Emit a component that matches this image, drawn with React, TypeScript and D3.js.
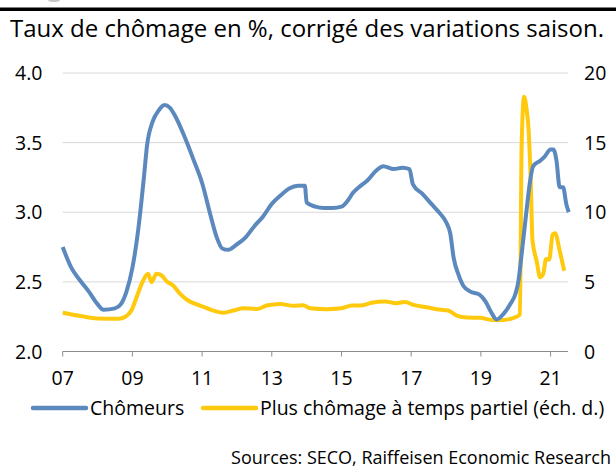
import * as d3 from "d3";

// Chômeurs, taux en % (échelle de gauche)
const chomeurs: [number, number][] = [
  [2007.0, 2.75], [2007.25, 2.6], [2007.5, 2.51], [2007.75, 2.43], [2008.0, 2.34],
  [2008.17, 2.3], [2008.5, 2.31], [2008.67, 2.34], [2008.83, 2.43], [2009.0, 2.6],
  [2009.17, 2.88], [2009.33, 3.25], [2009.42, 3.48], [2009.58, 3.65], [2009.75, 3.73],
  [2009.92, 3.77], [2010.08, 3.75], [2010.25, 3.68], [2010.5, 3.54], [2010.75, 3.38],
  [2011.0, 3.21], [2011.25, 2.97], [2011.42, 2.82], [2011.58, 2.74], [2011.75, 2.73],
  [2012.0, 2.77], [2012.25, 2.82], [2012.5, 2.9], [2012.75, 2.97], [2013.0, 3.06],
  [2013.25, 3.12], [2013.5, 3.17], [2013.75, 3.19], [2013.95, 3.19], [2014.0, 3.07],
  [2014.25, 3.04], [2014.5, 3.03], [2014.75, 3.03], [2015.0, 3.04], [2015.17, 3.08],
  [2015.33, 3.14], [2015.5, 3.18], [2015.75, 3.23], [2016.0, 3.3], [2016.2, 3.33],
  [2016.5, 3.31], [2016.75, 3.32], [2016.95, 3.31], [2017.05, 3.2], [2017.33, 3.13],
  [2017.58, 3.06], [2017.83, 2.99], [2018.0, 2.93], [2018.12, 2.85], [2018.22, 2.67],
  [2018.36, 2.55], [2018.5, 2.47], [2018.7, 2.43], [2018.95, 2.41], [2019.13, 2.36],
  [2019.3, 2.28], [2019.45, 2.23], [2019.65, 2.27], [2019.84, 2.34], [2020.0, 2.42],
  [2020.08, 2.51], [2020.17, 2.7], [2020.3, 2.99], [2020.41, 3.22], [2020.5, 3.33],
  [2020.7, 3.37], [2020.83, 3.4], [2021.0, 3.45], [2021.08, 3.45], [2021.17, 3.37],
  [2021.26, 3.18], [2021.36, 3.18], [2021.45, 3.06], [2021.52, 3.0],
];

// Plus chômage à temps partiel, en % (échelle de droite)
const tempsPartiel: [number, number][] = [
  [2007.0, 2.78], [2007.5, 2.55], [2008.0, 2.37], [2008.6, 2.35], [2008.8, 2.5],
  [2008.97, 2.94], [2009.12, 3.9], [2009.31, 5.1], [2009.45, 5.58], [2009.55, 4.98],
  [2009.69, 5.58], [2009.84, 5.46], [2009.98, 5.05], [2010.17, 4.74], [2010.37, 4.14],
  [2010.6, 3.66], [2010.94, 3.3], [2011.32, 2.94], [2011.61, 2.78], [2011.9, 2.94],
  [2012.18, 3.11], [2012.57, 3.05], [2012.85, 3.3], [2013.24, 3.42], [2013.62, 3.28],
  [2013.9, 3.32], [2014.1, 3.1], [2014.57, 3.04], [2015.0, 3.1], [2015.29, 3.3],
  [2015.62, 3.32], [2015.86, 3.5], [2016.25, 3.59], [2016.58, 3.47], [2016.82, 3.56],
  [2017.06, 3.35], [2017.44, 3.18], [2017.73, 3.04], [2018.06, 2.94], [2018.31, 2.58],
  [2018.6, 2.44], [2018.98, 2.42], [2019.32, 2.27], [2019.65, 2.27], [2019.94, 2.42],
  [2020.12, 2.65], [2020.17, 14.8], [2020.24, 18.3], [2020.3, 17.6], [2020.37, 15.9],
  [2020.43, 12.3], [2020.48, 8.0], [2020.6, 6.5], [2020.7, 5.33], [2020.79, 5.58],
  [2020.87, 6.65], [2020.96, 6.6], [2021.06, 8.4], [2021.13, 8.5], [2021.26, 7.25],
  [2021.39, 5.8],
];

const leftTicks = [2.0, 2.5, 3.0, 3.5, 4.0];
const rightTicks = [0, 5, 10, 15, 20];
const yearTicks = [2007, 2009, 2011, 2013, 2015, 2017, 2019, 2021];

const title = "Taux de chômage en %, corrigé des variations saison.";
const legendLabels = ["Chômeurs", "Plus chômage à temps partiel (éch. d.)"];
const source = "Sources: SECO, Raiffeisen Economic Research";

const BLUE = "#5b88bd";
const YELLOW = "#ffc90e";
const FONT = "'Open Sans', 'Noto Sans', sans-serif";

export default function App() {
  const width = 616;
  const height = 469;
  const left = 62.7;
  const right = 568;
  const top = 73;
  const bottom = 351.5;

  const x = d3.scaleLinear([2007, 2021.5], [left, right]);
  const yL = d3.scaleLinear([2, 4], [bottom, top]);
  const yR = d3.scaleLinear([0, 20], [bottom, top]);

  const lineL = d3
    .line<[number, number]>()
    .x((d) => x(d[0]))
    .y((d) => yL(d[1]))
    .curve(d3.curveMonotoneX);
  const lineR = d3
    .line<[number, number]>()
    .x((d) => x(d[0]))
    .y((d) => yR(d[1]))
    .curve(d3.curveMonotoneX);

  return (
    <svg
      width={width}
      height={height}
      style={{ position: "absolute", left: 0, top: 0, background: "#fff" }}
      fontFamily={FONT}
      fill="#000"
    >
      {/* rule above the title */}
      <line x1={0} x2={width} y1={9.25} y2={9.25} stroke="#000" strokeWidth={3.5} />
      <ellipse cx={54} cy={0} rx={6} ry={2} fill="#c8c8c8" />
      <text x={10} y={37} fontSize={24}>
        {title}
      </text>

      {/* grid */}
      {leftTicks.slice(1).map((t) => (
        <line key={t} x1={left} x2={right} y1={yL(t)} y2={yL(t)} stroke="#d9d9d9" strokeWidth={1} />
      ))}

      {/* x axis */}
      <line x1={left} x2={right} y1={bottom} y2={bottom} stroke="#8c8c8c" strokeWidth={1} />
      {yearTicks.map((t) => (
        <g key={t}>
          <line x1={x(t)} x2={x(t)} y1={bottom} y2={bottom + 5} stroke="#8c8c8c" />
          <text x={x(t)} y={378} dy="0.36em" fontSize={19.5} textAnchor="middle">
            {String(t % 100).padStart(2, "0")}
          </text>
        </g>
      ))}

      {/* left axis labels */}
      {leftTicks.map((t) => (
        <text key={t} x={42.5} y={yL(t)} dy="0.36em" fontSize={19.5} textAnchor="end">
          {t.toFixed(1)}
        </text>
      ))}
      {/* right axis labels */}
      {rightTicks.map((t) => (
        <text key={t} x={584} y={yR(t)} dy="0.36em" fontSize={19.5}>
          {t}
        </text>
      ))}

      <path d={lineR(tempsPartiel) as string} fill="none" stroke={YELLOW} strokeWidth={4} strokeLinejoin="round" />
      <path d={lineL(chomeurs) as string} fill="none" stroke={BLUE} strokeWidth={4} strokeLinejoin="round" />

      {/* legend */}
      <line x1={33} x2={86} y1={408} y2={408} stroke={BLUE} strokeWidth={4.5} strokeLinecap="round" />
      <text x={90} y={408} dy="0.36em" fontSize={19.5}>
        {legendLabels[0]}
      </text>
      <line x1={203} x2={256} y1={408} y2={408} stroke={YELLOW} strokeWidth={4.5} strokeLinecap="round" />
      <text x={260} y={408} dy="0.36em" fontSize={19.5}>
        {legendLabels[1]}
      </text>

      <text x={611} y={458} dy="0.36em" fontSize={18} textAnchor="end">
        {source}
      </text>
    </svg>
  );
}
